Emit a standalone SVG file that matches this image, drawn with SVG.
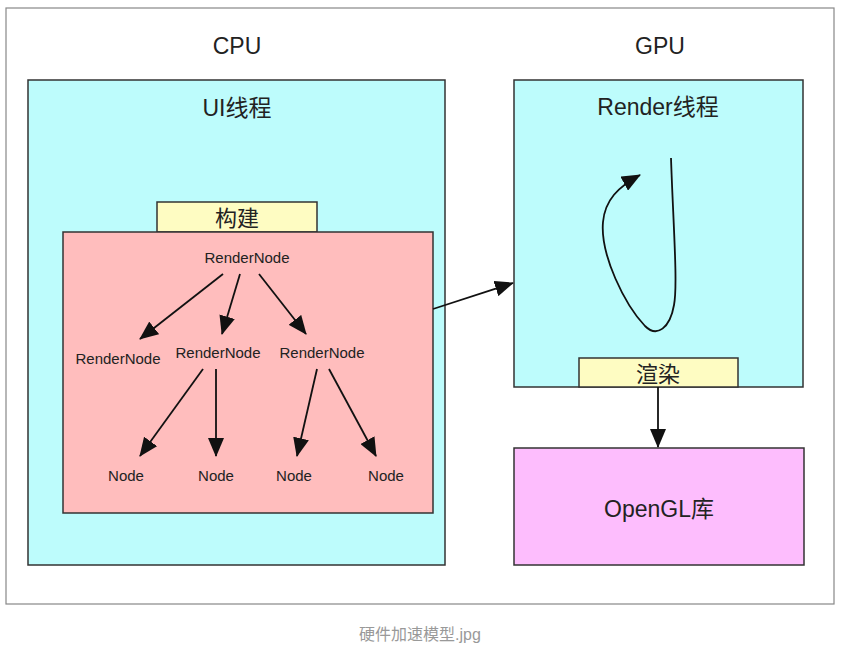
<svg xmlns="http://www.w3.org/2000/svg" width="859" height="651" viewBox="0 0 859 651">
<style>
.t{font-family:"Liberation Sans","Noto Sans CJK SC",sans-serif;fill:#222;text-anchor:middle}
.box{stroke:#333;stroke-width:1.5}
.n{font-size:15px}
.c{stroke:#111;stroke-width:1.8;fill:none}
</style>
<defs>
<marker id="ah" markerUnits="userSpaceOnUse" markerWidth="20" markerHeight="16" refX="18" refY="8" orient="auto">
<path d="M0,0 L19,8 L0,16 Z" fill="#111"/>
</marker>
</defs>
<rect width="859" height="651" fill="#fff"/>
<rect x="6" y="8" width="828" height="596" fill="#fff" stroke="#888" stroke-width="1.2"/>
<text class="t" x="237" y="54" font-size="23">CPU</text>
<text class="t" x="660" y="54" font-size="23">GPU</text>
<g id="ui-thread">
<rect class="box" x="28" y="80" width="417" height="485" fill="#bdfcfc"/>
<text class="t" x="237" y="116" font-size="23">UI线程</text>
</g>
<g id="build">
<rect class="box" x="157" y="202" width="160" height="30" fill="#fefcc2"/>
<text class="t" x="237" y="226" font-size="22">构建</text>
</g>
<g id="tree">
<rect class="box" x="63" y="232" width="370" height="281" fill="#ffbdbd"/>
</g>
<g id="rn-root"><text class="t n" x="247" y="263">RenderNode</text></g>
<g id="rn-1"><text class="t n" x="118" y="364">RenderNode</text></g>
<g id="rn-2"><text class="t n" x="218" y="358">RenderNode</text></g>
<g id="rn-3"><text class="t n" x="322" y="358">RenderNode</text></g>
<g id="node-1"><text class="t n" x="126" y="481">Node</text></g>
<g id="node-2"><text class="t n" x="216" y="481">Node</text></g>
<g id="node-3"><text class="t n" x="294" y="481">Node</text></g>
<g id="node-4"><text class="t n" x="386" y="481">Node</text></g>
<g id="render-thread">
<rect class="box" x="514" y="80" width="289" height="307" fill="#bdfcfc"/>
<text class="t" x="658" y="115" font-size="23">Render线程</text>
</g>
<g id="draw">
<rect class="box" x="579" y="358" width="159" height="29" fill="#fefcc2"/>
<text class="t" x="658" y="382" font-size="22">渲染</text>
</g>
<g id="opengl">
<rect class="box" x="514" y="448" width="290" height="117" fill="#fdbdfd"/>
<text class="t" x="659" y="517" font-size="23">OpenGL库</text>
</g>
<g id="connectors">
<line class="c" x1="223" y1="274" x2="140" y2="339" marker-end="url(#ah)"/>
<line class="c" x1="240" y1="274" x2="222" y2="334" marker-end="url(#ah)"/>
<line class="c" x1="259" y1="274" x2="306" y2="334" marker-end="url(#ah)"/>
<line class="c" x1="203" y1="369" x2="140" y2="456" marker-end="url(#ah)"/>
<line class="c" x1="216" y1="369" x2="216" y2="456" marker-end="url(#ah)"/>
<line class="c" x1="317" y1="369" x2="297" y2="456" marker-end="url(#ah)"/>
<line class="c" x1="329" y1="369" x2="376" y2="456" marker-end="url(#ah)"/>
<line class="c" x1="433" y1="309" x2="513" y2="283" marker-end="url(#ah)"/>
<line class="c" x1="658" y1="387" x2="658" y2="447" marker-end="url(#ah)"/>
<path class="c" d="M671,158 C673,220 678,285 674,305 C670,328 657,338 645,326 C625,305 600,255 603,222 C605,200 618,187 640,175" marker-end="url(#ah)"/>
</g>
<text x="420" y="640" font-size="16" fill="#999" text-anchor="middle" font-family="Liberation Sans,Noto Sans CJK SC,sans-serif">硬件加速模型.jpg</text>
</svg>
